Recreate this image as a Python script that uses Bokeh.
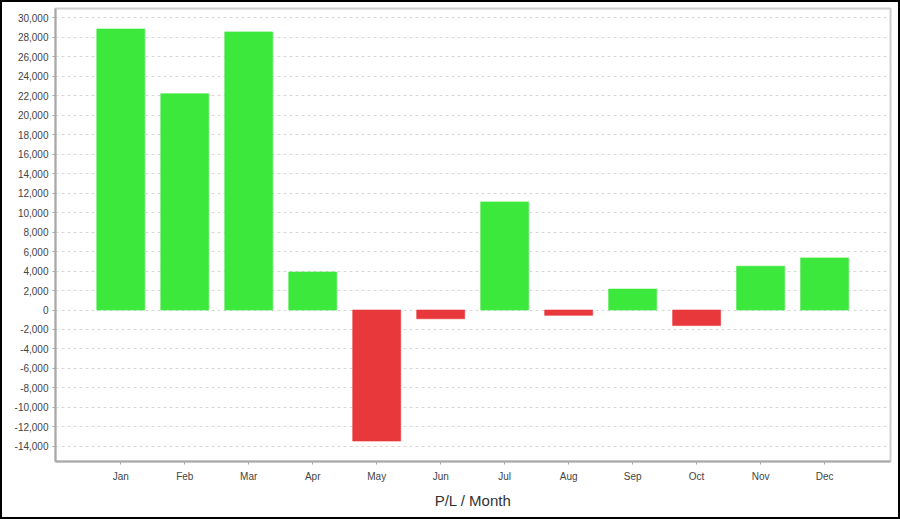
from bokeh.plotting import figure
from bokeh.models import ColumnDataSource, FixedTicker, NumeralTickFormatter, Range1d
from bokeh.embed import file_html
from bokeh.resources import INLINE

months = ["Jan", "Feb", "Mar", "Apr", "May", "Jun", "Jul", "Aug", "Sep", "Oct", "Nov", "Dec"]
pl_values = [28850, 22200, 28550, 3900, -13450, -900, 11100, -550, 2150, -1600, 4500, 5350]
y_ticks = [-14000, -12000, -10000, -8000, -6000, -4000, -2000, 0, 2000, 4000, 6000, 8000,
           10000, 12000, 14000, 16000, 18000, 20000, 22000, 24000, 26000, 28000, 30000]

GREEN = "#3de83d"
RED = "#e8383c"

idx = list(range(len(months)))
colors = [GREEN if v >= 0 else RED for v in pl_values]
source = ColumnDataSource(data=dict(x=idx, value=pl_values, color=colors))

p = figure(width=900, height=519, output_backend="svg", toolbar_location=None,
           x_range=Range1d(-1.02, 12.03), y_range=Range1d(-15550, 30950),
           min_border_left=55, min_border_top=8, min_border_right=10, min_border_bottom=58)

p.vbar(x="x", top="value", bottom=0, width=0.75, fill_color="color",
       line_color="color", line_alpha=0.6, source=source)

p.background_fill_color = "white"
p.border_fill_color = "white"
p.border_fill_alpha = 0
p.outline_line_color = "#cfcfcf"
p.outline_line_width = 2

p.xgrid.visible = False
p.ygrid.grid_line_color = "#d8d8d8"
p.ygrid.grid_line_dash = "3 3"
p.ygrid.grid_line_width = 1

p.yaxis.ticker = FixedTicker(ticks=y_ticks)
p.yaxis.formatter = NumeralTickFormatter(format="0,0")
p.xaxis.ticker = FixedTicker(ticks=idx)
p.xaxis.major_label_overrides = {i: m for i, m in zip(idx, months)}

for ax in (p.xaxis[0], p.yaxis[0]):
    ax.axis_line_color = "#a8a8a8"
    ax.axis_line_width = 2
    ax.major_tick_line_color = "#a8a8a8"
    ax.major_tick_out = 3
    ax.major_tick_in = 0
    ax.minor_tick_line_color = None
    ax.major_label_text_font = "Liberation Sans"
    ax.major_label_text_font_size = "10px"
    ax.major_label_text_color = "#444444"

p.yaxis.major_label_standoff = 4
p.xaxis.major_label_standoff = 6
p.xaxis.axis_label = "P/L / Month"
p.xaxis.axis_label_text_font = "Liberation Sans"
p.xaxis.axis_label_text_font_size = "15px"
p.xaxis.axis_label_text_font_style = "normal"
p.xaxis.axis_label_text_color = "#333333"
p.xaxis.axis_label_standoff = 7

p.styles = {"background-color": "white", "box-shadow": "inset 0 0 0 2px black"}

open("out.html", "w").write(file_html(p, INLINE))
